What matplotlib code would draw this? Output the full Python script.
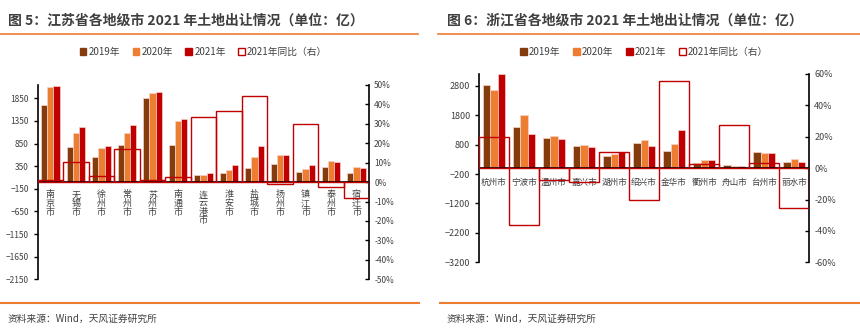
import matplotlib
matplotlib.use("Agg")
import matplotlib.pyplot as plt
import numpy as np
from matplotlib.patches import Patch
from matplotlib.lines import Line2D
from matplotlib.ticker import FuncFormatter

plt.rcParams['font.family'] = ['Noto Sans CJK SC', 'DejaVu Sans']

# 江苏省 (亿元, 同比 %)
js_cities = ['南京市', '无锡市', '徐州市', '常州市', '苏州市', '南通市', '连云港市',
             '淮安市', '盐城市', '扬州市', '镇江市', '泰州市', '宿迁市']
js_2019 = [1710, 768, 560, 819, 1858, 826, 155, 206, 310, 398, 221, 339, 206]
js_2020 = [2108, 1091, 759, 1091, 1962, 1356, 155, 272, 560, 604, 288, 465, 339]
js_2021 = [2130, 1210, 790, 1268, 1984, 1387, 199, 369, 803, 600, 369, 450, 310]
js_yoy = [0.9, 10.1, 2.9, 16.8, 0.9, 2.4, 33.7, 36.3, 44.5, -1.2, 30.1, -2.7, -8.2]

# 浙江省
zj_cities = ['杭州市', '宁波市', '温州市', '嘉兴市', '湖州市', '绍兴市',
             '金华市', '衢州市', '舟山市', '台州市', '丽水市']
zj_2019 = [2824, 1400, 1017, 756, 397, 871, 587, 159, 92, 532, 214]
zj_2020 = [2644, 1807, 1085, 803, 475, 959, 837, 261, 68, 508, 305]
zj_2021 = [3190, 1153, 993, 722, 532, 756, 1312, 271, 78, 525, 200]
zj_yoy = [19.6, -36.0, -7.8, -9.1, 10.0, -20.6, 55.8, 2.4, 27.3, 3.0, -25.1]

series_labels = ['2019年', '2020年', '2021年', '2021年同比（右）']
colors = ['#843c0c', '#ed7d31', '#c00000']
red = '#c00000'
orange = '#ed7d31'
txt = '#404040'


def draw(ax, cities, v19, v20, v21, yoy, ylim, yticks, plim, pticks,
         vertical, fs, lfs):
    x = np.arange(len(cities))
    w = 0.24
    for k, vals in enumerate([v19, v20, v21]):
        ax.bar(x + (k - 1) * w, vals, w, color=colors[k],
               edgecolor='#f6d2cc', linewidth=0.5, zorder=2)
    ax.set_xlim(-0.5, len(cities) - 0.5)
    ax.set_ylim(*ylim)
    ax.set_yticks(yticks)
    ax.axhline(0, color='black', lw=1.2, zorder=4)
    for s in ['top', 'bottom', 'right']:
        ax.spines[s].set_visible(False)
    ax.spines['left'].set_linewidth(1.2)
    ax.set_xticks([])
    ax.tick_params(axis='y', labelsize=fs, labelcolor=txt, color='black',
                   length=3, width=1)

    for i, name in enumerate(cities):
        if vertical:
            ax.annotate('\n'.join(name), (i, 0), xytext=(0, -6),
                        textcoords='offset points', ha='center', va='top',
                        fontsize=lfs, color=txt, linespacing=0.95)
        else:
            ax.annotate(name, (i, 0), xytext=(0, -7),
                        textcoords='offset points', ha='center', va='top',
                        fontsize=lfs, color=txt)

    ax2 = ax.twinx()
    ax2.bar(x, yoy, 1.0, facecolor='none', edgecolor=red, linewidth=1.0,
            zorder=3)
    ax2.set_ylim(*plim)
    ax2.set_yticks(pticks)
    ax2.yaxis.set_major_formatter(FuncFormatter(lambda v, p: f'{v:.0f}%'))
    for s in ['top', 'bottom', 'left']:
        ax2.spines[s].set_visible(False)
    ax2.spines['right'].set_linewidth(1.2)
    ax2.tick_params(axis='y', labelsize=fs, labelcolor=txt, length=3,
                    width=1, direction='in')
    return ax2


fig = plt.figure(figsize=(8.6, 3.3), dpi=100)

ax_l = fig.add_axes([0.0438, 0.1536, 0.3856, 0.5894])
draw(ax_l, js_cities, js_2019, js_2020, js_2021, js_yoy,
     (-2150, 2150), np.arange(-2150, 1851, 500),
     (-50, 50), np.arange(-50, 51, 10), True, 6, 6.5)

ax_r = fig.add_axes([0.557, 0.2052, 0.384, 0.5706])
draw(ax_r, zj_cities, zj_2019, zj_2020, zj_2021, zj_yoy,
     (-3200, 3200), np.arange(-3200, 2801, 1000),
     (-60, 60), np.arange(-60, 61, 20), False, 6.5, 6.2)

handles = [Patch(facecolor=c, edgecolor=c) for c in colors]
handles.append(Patch(facecolor='white', edgecolor=red, linewidth=1.0))
for cx in [0.2366, 0.749]:
    fig.legend(handles, series_labels, loc='center', ncol=4,
               bbox_to_anchor=(cx, 0.842), frameon=False, fontsize=7,
               handlelength=0.7, handleheight=0.7, handletextpad=0.2,
               columnspacing=1.3, labelcolor=txt)

# titles and rules
fig.text(8 / 860, 1 - 20 / 330, '图 5：江苏省各地级市 2021 年土地出让情况（单位：亿）',
         fontsize=10, weight='bold', color='#3f3f3f', va='center')
fig.text(447 / 860, 1 - 20 / 330, '图 6：浙江省各地级市 2021 年土地出让情况（单位：亿）',
         fontsize=10, weight='bold', color='#3f3f3f', va='center')
for x0, x1 in [(0, 418), (438, 860)]:
    fig.add_artist(Line2D([x0 / 860, x1 / 860], [1 - 34 / 330] * 2,
                          transform=fig.transFigure, color=orange, lw=1.2))
for x0, x1 in [(0, 419), (440, 860)]:
    fig.add_artist(Line2D([x0 / 860, x1 / 860], [1 - 303 / 330] * 2,
                          transform=fig.transFigure, color=orange, lw=1.5))
for xs in [8, 447]:
    fig.text(xs / 860, 1 - 319 / 330, '资料来源：Wind，天风证券研究所',
             fontsize=7, color=txt, va='center')

fig.savefig('out.png', dpi=100)
